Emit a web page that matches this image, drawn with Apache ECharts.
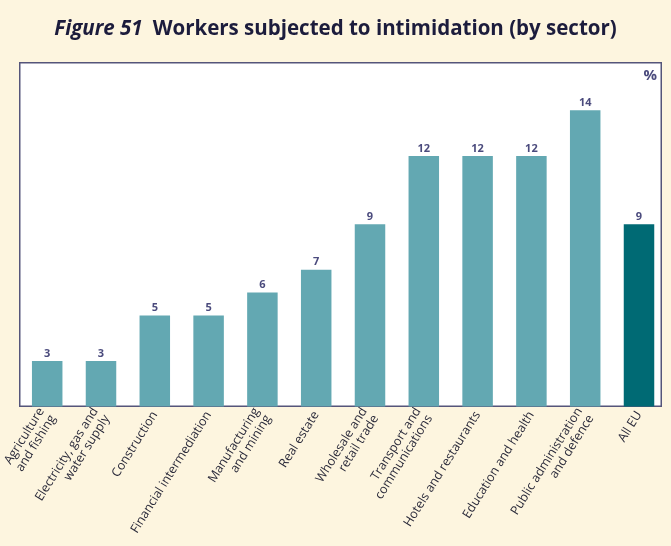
<!DOCTYPE html>
<html>
<head>
<meta charset="utf-8">
<script src="https://cdn.jsdelivr.net/npm/echarts@6/dist/echarts.min.js"></script>
<style>
  html, body { margin: 0; padding: 0; background: #fdf5df; }
  #chart { width: 671px; height: 546px; }
</style>
</head>
<body>
<div id="chart"></div>
<script>
// Share of workers subjected to intimidation, by sector (%)
const categories = [
  'Agriculture\nand fishing',
  'Electricity, gas and\nwater supply',
  'Construction',
  'Financial intermediation',
  'Manufacturing\nand mining',
  'Real estate',
  'Wholesale and\nretail trade',
  'Transport and\ncommunications',
  'Hotels and restaurants',
  'Education and health',
  'Public administration\nand defence',
  'All EU'
];
const values = [3, 3, 5, 5, 6, 7, 9, 12, 12, 12, 14, 9];
const highlightCategory = 'All EU';

const chart = echarts.init(document.getElementById('chart'));

chart.setOption({
  backgroundColor: '#fdf5df',
  title: {
    text: '{i|Figure 51}  {b|Workers subjected to intimidation (by sector)}',
    left: 'center',
    top: 14,
    textStyle: {
      rich: {
        i: { fontFamily: 'Open Sans', fontSize: 20.5, fontWeight: 'bold', fontStyle: 'italic', color: '#1c1c3c' },
        b: { fontFamily: 'Open Sans', fontSize: 20.5, fontWeight: 'bold', color: '#1c1c3c' }
      }
    }
  },
  graphic: [
    {
      // white plotting panel with its frame
      type: 'rect',
      z: 0,
      shape: { x: 19.75, y: 62.75, width: 641.5, height: 343.5 },
      style: { fill: '#ffffff', stroke: '#55557a', lineWidth: 1.5 }
    },
    {
      type: 'text',
      right: 14,
      top: 68,
      style: { text: '%', font: 'bold 15px "Open Sans"', fill: '#4b4b7d' }
    }
  ],
  grid: {
    left: 20.3, width: 645.6, top: 64.8, bottom: 139.5,
    show: false
  },
  xAxis: {
    type: 'category',
    data: categories,
    axisLine: { show: false },
    axisTick: { show: false },
    axisLabel: {
      interval: 0,
      rotate: 58,
      margin: 6,
      fontFamily: 'Open Sans',
      fontSize: 12.5,
      lineHeight: 13.5,
      color: '#2a2a3a',
      align: 'right'
    }
  },
  yAxis: {
    type: 'value',
    min: 1,
    max: 16,
    show: false,
    splitLine: { show: false }
  },
  series: [{
    type: 'bar',
    barWidth: 30.5,
    z: 3,
    data: values.map((v, i) => ({
      value: v,
      itemStyle: { color: categories[i] === highlightCategory ? '#006a74' : '#63a8b2' }
    })),
    label: {
      show: true,
      position: 'top',
      distance: 2,
      fontFamily: 'Open Sans',
      fontSize: 11,
      fontWeight: 'bold',
      color: '#4b4b7d'
    }
  }]
});
</script>
</body>
</html>
